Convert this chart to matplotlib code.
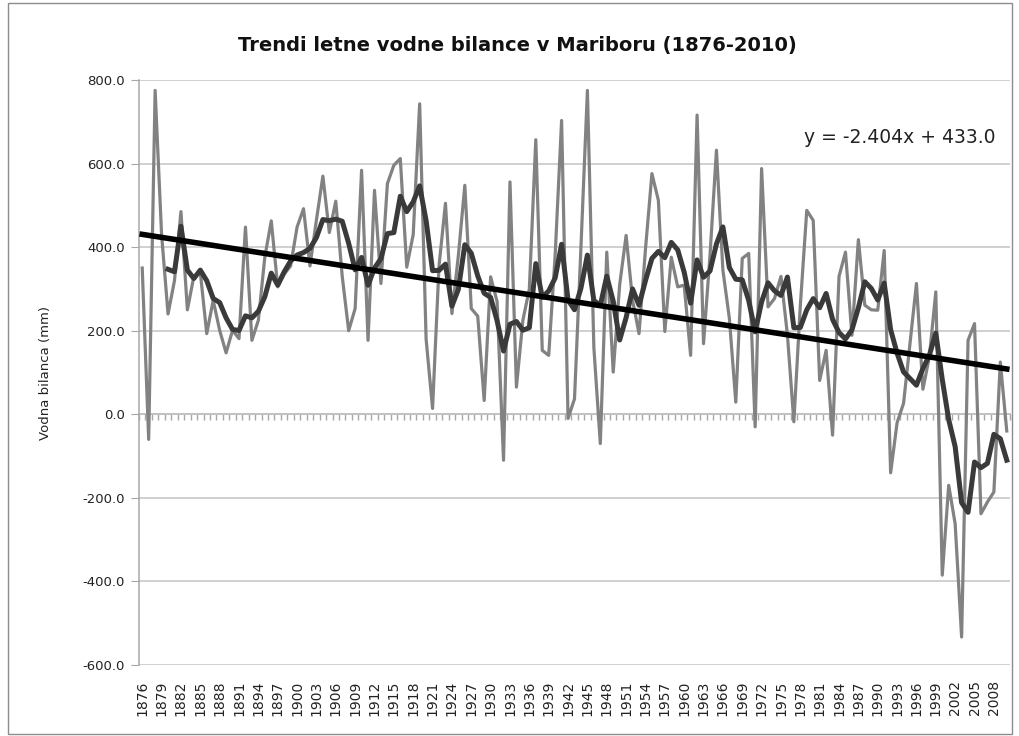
import matplotlib
matplotlib.use("Agg")
import matplotlib.pyplot as plt
import numpy as np
from matplotlib.ticker import FormatStrFormatter
from matplotlib.patches import Rectangle

plt.rcParams['axes.unicode_minus'] = False
plt.rcParams['font.family'] = ['DejaVu Sans']

# letna vodna bilanca (mm), 1876-2010, odcitano iz grafa
years = list(range(1876, 2011))
bilanca = [
    350, -60, 775, 430, 240, 320, 485, 250, 330, 340,      # 1876-1885
    193, 273, 201, 147, 201, 181, 448, 177, 225, 376,      # 1886-1895
    463, 305, 335, 355, 448, 492, 355, 465, 570, 435,      # 1896-1905
    510, 330, 200, 253, 584, 177, 536, 313, 552, 596,      # 1906-1915
    612, 352, 430, 743, 180, 14, 355, 505, 241, 380,       # 1916-1925
    548, 253, 235, 33, 329, 270, -110, 556, 65, 225,       # 1926-1935
    300, 657, 153, 141, 380, 703, -10, 37, 400, 775,       # 1936-1945
    160, -70, 388, 101, 310, 428, 273, 193, 395, 576,      # 1946-1955
    512, 198, 376, 305, 309, 141, 716, 169, 380, 632,      # 1956-1965
    345, 230, 29, 373, 385, -30, 588, 257, 277, 330,       # 1966-1975
    190, -18, 260, 488, 464, 81, 153, -50, 330, 388,       # 1976-1985
    189, 418, 261, 250, 249, 392, -140, -20, 26, 169,      # 1986-1995
    313, 60, 137, 293, -385, -170, -262, -533, 177, 217,   # 1996-2005
    -238, -210, -186, 125, -40,                            # 2006-2010
]
ma_period = 5
trend_k = -2.404
trend_n = 433.0
title = "Trendi letne vodne bilance v Mariboru (1876-2010)"

x = np.arange(len(years))
vals = np.array(bilanca, dtype=float)
ma = np.convolve(vals, np.ones(ma_period) / ma_period, mode='valid')
ma_x = x[ma_period - 1:]
trend = trend_k * (x + 1) + trend_n

fig = plt.figure(figsize=(10.19, 7.36), dpi=100)
fig.patches.append(Rectangle((8 / 1019, 2 / 736), 1004 / 1019, 731 / 736,
                             transform=fig.transFigure, fill=False,
                             edgecolor='#8c8c8c', lw=1.0))
ax = fig.add_axes([139 / 1019, 1 - 665 / 736, 871 / 1019, 585 / 736])

ax.plot(x, vals, color='#828282', lw=2.3, zorder=3)
ax.plot(ma_x, ma, color='#3a3a3a', lw=3.6, zorder=4, solid_joinstyle='round')
ax.plot(x, trend, color='black', lw=4.0, zorder=5)

ax.set_xlim(-0.5, len(years) - 0.5)
ax.set_ylim(-600, 800)
ax.set_yticks(np.arange(-600, 801, 200))
ax.yaxis.set_major_formatter(FormatStrFormatter('%.1f'))
ax.grid(axis='y', color='#c4c4c4', lw=1.1)
ax.set_axisbelow(True)

for s in ['top', 'right', 'bottom']:
    ax.spines[s].set_visible(False)
ax.spines['left'].set_color('#a8a8a8')
ax.spines['left'].set_linewidth(1.1)
ax.tick_params(axis='y', length=6, color='#a8a8a8', labelsize=9.5,
               labelcolor='#222222', pad=4)

lab_idx = x[::3]
ax.set_xticks(lab_idx)
ax.set_xticklabels([str(years[i]) for i in lab_idx], rotation=90)
ax.tick_params(axis='x', length=0, labelsize=10, labelcolor='#222222', pad=11)

# os na nivoju 0 z oznakami kategorij
sec = ax.secondary_xaxis(600 / 1400)
sec.set_xticks(np.arange(-0.5, len(years), 1))
sec.set_xticklabels([])
sec.tick_params(axis='x', length=4, color='#a8a8a8', width=1)
sec.spines['bottom'].set_color('#a8a8a8')
sec.spines['bottom'].set_linewidth(1.1)

ax.set_ylabel("Vodna bilanca (mm)", fontsize=9.5, color='#222222', labelpad=22)
fig.text(517 / 1019, 1 - 45 / 736, title, ha='center', va='center',
         fontsize=14, fontweight='bold', color='#111111')
ax.text(0.983, 0.901, "y = -2.404x + 433.0", transform=ax.transAxes,
        ha='right', va='center', fontsize=13.5, color='#222222')

fig.savefig("out.png", dpi=100)
